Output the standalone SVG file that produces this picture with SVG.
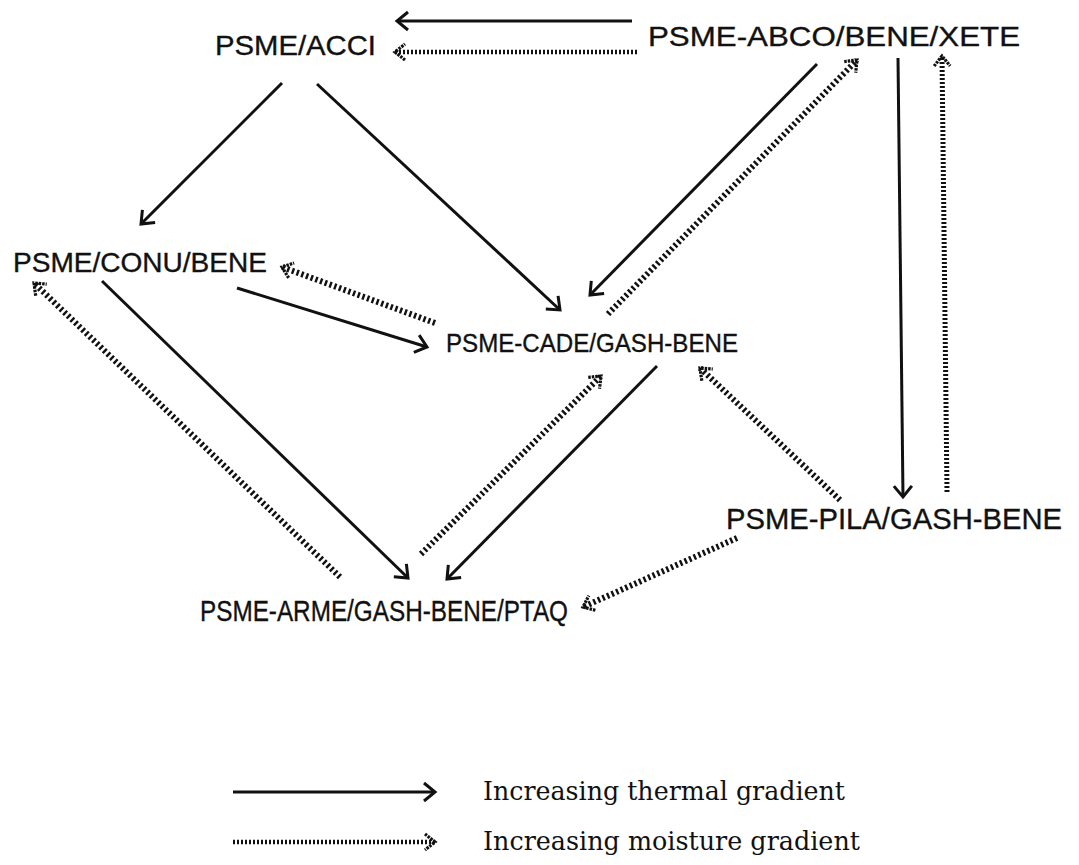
<svg xmlns="http://www.w3.org/2000/svg" width="1079" height="865" viewBox="0 0 1079 865">
<style>
.node{font-family:"Liberation Sans",Arial,sans-serif;fill:#111;stroke:#111;stroke-width:0.35;}
.leg{font-family:"DejaVu Serif","Liberation Serif",serif;fill:#111;}
.th{stroke:#111;stroke-width:3;fill:none;marker-end:url(#hs);}
.mo{stroke:#111;stroke-width:6;stroke-dasharray:2.4 2.6;fill:none;marker-end:url(#hd);}
</style>
<defs>
<marker id="hs" markerUnits="userSpaceOnUse" markerWidth="30" markerHeight="30" viewBox="-15 -15 30 30" refX="0" refY="0" orient="auto">
<path d="M-11,-9 L0,0 L-11,9" stroke="#111" stroke-width="3" fill="none" stroke-linejoin="miter"/>
</marker>
<marker id="hd" markerUnits="userSpaceOnUse" markerWidth="30" markerHeight="30" viewBox="-15 -15 30 30" refX="0" refY="0" orient="auto">
<path d="M-10,-8 L0,0 L-10,8" stroke="#111" stroke-width="3.2" stroke-dasharray="2.5 1" fill="none"/>
</marker>
</defs>
<rect width="1079" height="865" fill="#fff"/>
<g id="connectors">
<line class="th" x1="632" y1="21" x2="397" y2="21"/>
<line class="mo" style="stroke-width:4.5;stroke-dasharray:2 2" x1="637" y1="52" x2="395" y2="52"/>
<line class="th" x1="282" y1="83" x2="141" y2="224"/>
<line class="th" x1="317" y1="84" x2="560" y2="310"/>
<line class="th" x1="817" y1="64" x2="590" y2="295"/>
<line class="mo" x1="608" y1="314" x2="857" y2="60"/>
<line class="th" x1="898" y1="58" x2="903" y2="497"/>
<line class="mo" style="stroke-width:5;stroke-dasharray:2 2" x1="947" y1="492" x2="942" y2="56"/>
<line class="th" x1="237" y1="288" x2="427" y2="347"/>
<line class="mo" x1="435" y1="323" x2="282" y2="267"/>
<line class="mo" x1="340" y1="577" x2="34" y2="283"/>
<line class="th" x1="102" y1="281" x2="408" y2="578"/>
<line class="mo" x1="421" y1="554" x2="601" y2="376"/>
<line class="th" x1="657" y1="366" x2="447" y2="579"/>
<line class="mo" x1="840" y1="500" x2="700" y2="368"/>
<line class="mo" x1="737" y1="538" x2="583" y2="607"/>
</g>
<g id="n-acci"><text class="node" x="215" y="55" font-size="28" textLength="161" lengthAdjust="spacingAndGlyphs">PSME/ACCI</text></g>
<g id="n-abco"><text class="node" x="648" y="46" font-size="28" textLength="372" lengthAdjust="spacingAndGlyphs">PSME-ABCO/BENE/XETE</text></g>
<g id="n-conu"><text class="node" x="13" y="272" font-size="28" textLength="254" lengthAdjust="spacingAndGlyphs">PSME/CONU/BENE</text></g>
<g id="n-cade"><text class="node" x="446" y="352" font-size="25" textLength="292" lengthAdjust="spacingAndGlyphs">PSME-CADE/GASH-BENE</text></g>
<g id="n-pila"><text class="node" x="726" y="529" font-size="30" textLength="336" lengthAdjust="spacingAndGlyphs">PSME-PILA/GASH-BENE</text></g>
<g id="n-arme"><text class="node" x="200" y="621" font-size="29" textLength="368" lengthAdjust="spacingAndGlyphs">PSME-ARME/GASH-BENE/PTAQ</text></g>
<g id="legend">
<line class="th" x1="233" y1="792" x2="435" y2="792"/>
<line class="mo" style="stroke-width:4.5;stroke-dasharray:2 2" x1="233" y1="842" x2="435" y2="842"/>
<text class="leg" x="483" y="800" font-size="26" textLength="362" lengthAdjust="spacingAndGlyphs">Increasing thermal gradient</text>
<text class="leg" x="483" y="850" font-size="26" textLength="377" lengthAdjust="spacingAndGlyphs">Increasing moisture gradient</text>
</g>
</svg>
